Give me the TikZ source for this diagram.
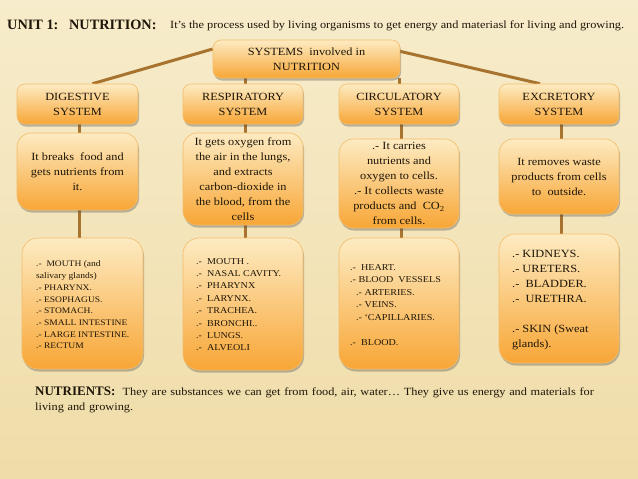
\documentclass[tikz,border=0pt]{standalone}
\usepackage{fontspec}
\setmainfont[FakeStretch=1.12]{Liberation Serif}
\newfontfamily\titlefont{Liberation Serif}
\usetikzlibrary{shadows,calc}
\definecolor{bgtop}{HTML}{F7ECCB}
\definecolor{bgbot}{HTML}{EFDCA8}
\definecolor{boxtop}{HTML}{FDEBC2}
\definecolor{boxbot}{HTML}{F8A636}
\definecolor{boxedge}{HTML}{F3BC6A}
\definecolor{linkc}{HTML}{A8732E}
\definecolor{inkc}{HTML}{1E1608}
\pgfdeclarelayer{bglayer}
\pgfdeclarelayer{linklayer}
\pgfsetlayers{bglayer,linklayer,main}
\begin{document}
\begin{tikzpicture}[x=1pt,y=-1pt, text=inkc,
  card/.style={draw=boxedge, line width=0.6pt, rounded corners=#1,
    top color=boxtop, bottom color=boxbot,
    drop shadow={shadow xshift=1pt,shadow yshift=-2.5pt,opacity=0.35,fill=black!70},
    inner sep=0pt, align=center, font=\fontsize{11}{15}\selectfont},
  card/.default=8pt,
  link/.style={draw=linkc, line width=3pt},
  listtext/.style={inner sep=0pt, align=left, anchor=west},
]
\begin{pgfonlayer}{bglayer}
\shade[top color=bgtop,bottom color=bgbot] (0,0) rectangle (638,479);
\end{pgfonlayer}
\useasboundingbox (0,0) rectangle (638,479);

% titles
\node[anchor=base west, inner sep=0pt, font=\titlefont\fontsize{14.3}{16}\selectfont\bfseries] (unit) at (7,30) {UNIT 1:\ \ \ NUTRITION:};
\node[anchor=base west, inner sep=0pt, font=\fontsize{11}{13}\selectfont] (def) at (170,28) {It’s the process used by living organisms to get energy and materiasl for living and growing.};

% top box
\node[card, minimum width=187pt, minimum height=38pt] (sys) at (306.5,59) {SYSTEMS\ \ involved in\\NUTRITION};

% headers
\node[card, minimum width=121pt, minimum height=40pt] (dig) at (77.5,104) {DIGESTIVE\\SYSTEM};
\node[card, minimum width=120pt, minimum height=40pt] (resp) at (243,104) {RESPIRATORY\\SYSTEM};
\node[card, minimum width=120pt, minimum height=40pt] (circ) at (399,104) {CIRCULATORY\\SYSTEM};
\node[card, minimum width=120pt, minimum height=40pt] (exc) at (559,104) {EXCRETORY\\SYSTEM};

% descriptions
\node[card=14pt, minimum width=121pt, minimum height=77pt] (digd) at (77.5,171.5) {It breaks\ \ food and\\gets nutrients from\\it.};
\node[card=14pt, minimum width=120pt, minimum height=92pt] (respd) at (243,179) {It gets oxygen from\\the air in the lungs,\\and extracts\\carbon-dioxide in\\the blood, from the\\cells};
\node[card=14pt, minimum width=120pt, minimum height=89pt] (circd) at (399,183.5) {.- It carries\\nutrients and\\oxygen to cells.\\.- It collects waste\\products and\ \ CO\textsubscript{2}\\from cells.};
\node[card=14pt, minimum width=120pt, minimum height=75pt] (excd) at (559,176.5) {It removes waste\\products from cells\\to\ \ outside.};

% list boxes
\node[card=16pt, minimum width=121pt, minimum height=131pt] (digl) at (82.5,303.5) {};
\node[card=16pt, minimum width=120pt, minimum height=132pt] (respl) at (243,304) {};
\node[card=16pt, minimum width=120pt, minimum height=131pt] (circl) at (399,303.5) {};
\node[card=16pt, minimum width=120pt, minimum height=129pt] (excl) at (559,298.5) {};

\node[listtext, font=\fontsize{8.5}{11.7}\selectfont] (digt) at (36,305) {.-\ \ MOUTH (and\\salivary glands)\\.- PHARYNX.\\.- ESOPHAGUS.\\.- STOMACH.\\.- SMALL INTESTINE\\.- LARGE INTESTINE.\\.- RECTUM};
\node[listtext, font=\fontsize{9}{12.4}\selectfont] (respt) at (196,304.5) {.-\ \ MOUTH .\\.-\ \ NASAL CAVITY.\\.-\ \ PHARYNX\\.-\ \ LARYNX.\\.-\ \ TRACHEA.\\.-\ \ BRONCHI..\\.-\ \ LUNGS.\\.-\ \ ALVEOLI};
\node[listtext, font=\fontsize{9}{12.5}\selectfont] (circt) at (350,305) {.-\ \ HEART.\\.- BLOOD\ \ VESSELS\\\hspace*{6pt}.- ARTERIES.\\\hspace*{6pt}.- VEINS.\\\hspace*{6pt}.- `CAPILLARIES.\\[12.5pt].-\ \ BLOOD.};
\node[listtext, font=\fontsize{11}{15}\selectfont] (exct) at (512,300.5) {.- KIDNEYS.\\.- URETERS.\\.-\ \ BLADDER.\\.-\ \ URETHRA.\\[15pt].- SKIN (Sweat\\glands).};

% nutrients
\node[anchor=north west, inner sep=0pt, text width=565pt, align=left, font=\fontsize{11}{15}\selectfont] (nut) at (35,387) {{\titlefont\fontsize{13}{15}\selectfont\bfseries NUTRIENTS:}\ \ They are substances we can get from food, air, water… They give us energy and materials for living and growing.};

% connectors
\begin{pgfonlayer}{linklayer}
\draw[link] ([yshift=10pt]sys.west) -- ([xshift=15pt]dig.north);
\draw[link] ([xshift=-6pt,yshift=9pt]sys.east) -- ([xshift=-19pt]exc.north);
\draw[link] ([xshift=2pt]resp.north |- sys.south) -- ([xshift=2pt]resp.north);
\draw[link] (circ.north |- sys.south) -- (circ.north);
\draw[link] ([xshift=1.5pt]dig.south) -- ([xshift=1.5pt]digd.north);
\draw[link] ([xshift=2pt]resp.south) -- ([xshift=2pt]respd.north);
\draw[link] ([xshift=2pt]circ.south) -- ([xshift=2pt]circd.north);
\draw[link] ([xshift=2pt]exc.south) -- ([xshift=2pt]excd.north);
\draw[link] ([xshift=1.5pt]digd.south) -- ([xshift=1.5pt]digd.south |- digl.north);
\draw[link] ([xshift=2pt]respd.south) -- ([xshift=2pt]respl.north);
\draw[link] ([xshift=2pt]circd.south) -- ([xshift=2pt]circl.north);
\draw[link] ([xshift=2pt]excd.south) -- ([xshift=2pt]excl.north);
\end{pgfonlayer}
\end{tikzpicture}
\end{document}
